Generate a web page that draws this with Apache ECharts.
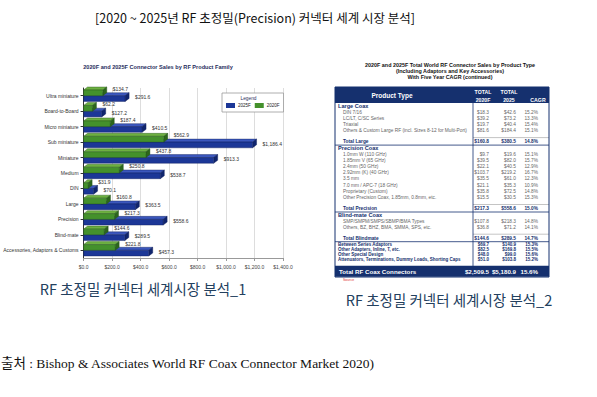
<!DOCTYPE html>
<html><head><meta charset="utf-8">
<script src="https://cdn.jsdelivr.net/npm/echarts@6/dist/echarts.min.js"></script>
<style>html,body{margin:0;padding:0;background:#fff}#c{width:597px;height:397px}</style>
</head><body><div id="c"></div>
<script>
// ---- bar chart data ----
const categories = ['Ultra miniature','Board-to-Board','Micro miniature','Sub miniature','Miniature','Medium','DIN','Large','Precision','Blind-mate','Accessories, Adaptors & Customs'];
const sales2020 = [134.7, 62.2, 187.4, 562.9, 437.8, 250.8, 31.9, 160.8, 217.3, 144.6, 221.8];
const sales2025 = [291.6, 127.2, 410.5, 1186.4, 913.3, 538.7, 70.1, 363.5, 558.6, 289.5, 457.3];
const seriesNames = ['2025F', '2020F'];

// ---- table data ----
const tableLabels = ['Large Coax','DIN 7/16','LC/LT, C/SC Series','Triaxial','Others & Custom Large RF (incl. Sizes 8-12 for Multi-Port)','Total Large',
  'Precision Coax','1.0mm W (110 GHz)','1.85mm V (65 GHz)','2.4mm (50 GHz)','2.92mm (K) (40 GHz)','3.5 mm','7.0 mm / APC-7 (18 GHz)','Proprietary (Custom)','Other Precision Coax, 1.85mm, 0.8mm, etc.','Total Precision',
  'Blind-mate Coax','SMP/SMPM/SMPS/SBMP/BMA Types','Others, BZ, BHZ, BMA, SMMA, SPS, etc.','Total Blindmate',
  'Between Series Adaptors','Other Adapters, Inline, T, etc.','Other Special Design','Attenuators, Terminations, Dummy Loads, Shorting Caps','Total RF Coax Connectors'];
const table2020 = ['', '$18.3','$39.2','$19.7','$81.6','$160.8', '', '$9.7','$39.5','$22.1','$103.7','$35.5','$21.1','$35.8','$15.5','$217.3', '', '$107.8','$36.8','$144.6', '$69.7','$82.5','$48.0','$51.0','$2,509.5'];
const table2025 = ['', '$42.6','$73.2','$40.4','$184.4','$380.5', '', '$19.6','$82.0','$40.5','$219.2','$61.0','$35.3','$72.5','$30.5','$558.6', '', '$218.3','$71.2','$289.5', '$140.9','$169.8','$99.0','$103.8','$5,180.9'];
const tableCagr = ['', '15.2%','13.3%','15.4%','15.1%','14.8%', '', '15.1%','15.7%','12.9%','16.7%','12.3%','10.9%','14.8%','15.3%','15.0%', '', '14.8%','14.1%','14.7%', '15.3%','15.5%','15.6%','15.2%','15.6%'];
const rowKinds = ['sec','item','item','item','item','tot','sec','item','item','item','item','item','item','item','item','tot','sec','item','item','tot','bold','bold','bold','bold','foot'];

const NAVY = '#15306e';
const fmt = v => '$' + v.toLocaleString('en-US',{minimumFractionDigits:1, maximumFractionDigits:1});

function bar3d(col, up){
  return function(params, api){
    const v = api.value(0), ci = api.value(1);
    const p0 = api.coord([0, ci]), p1 = api.coord([v, ci]);
    const band = api.size([0, 1])[1];
    const h = band * 0.37;
    const y0 = up ? p0[1] - h : p0[1];
    const x0 = p0[0], x1 = p1[0];
    const dx = 4, dy = 3;
    return {type:'group', children:[
      {type:'polygon', shape:{points:[[x0,y0],[x0+dx,y0-dy],[x1+dx,y0-dy],[x1,y0]]}, style:{fill:col.top, stroke:col.edge, lineWidth:0.4}},
      {type:'polygon', shape:{points:[[x1,y0],[x1+dx,y0-dy],[x1+dx,y0+h-dy],[x1,y0+h]]}, style:{fill:col.side, stroke:col.edge, lineWidth:0.4}},
      {type:'rect', shape:{x:x0, y:y0, width:x1-x0, height:h}, style:{fill:col.front, stroke:col.edge, lineWidth:0.4}},
      {type:'text', style:{text:fmt(v), x:x1+dx+6, y: up ? y0-1 : y0+1.5, fontSize:5, fill:'#333', verticalAlign:'middle', fontFamily:'Arial, Liberation Sans'}}
    ]};
  };
}
const blue = {front:'#1c3797', top:'#3b57bd', side:'#10256e', edge:'#0d1d55'};
const green = {front:'#44912c', top:'#6db041', side:'#2c661b', edge:'#23521a'};

// ---- table graphics ----
const T = {x0:335, x1:549, div:473, top:87, head:103, c1:489, c2:516, c3:538};
const tbl = [];
tbl.push({type:'rect', shape:{x:T.x0, y:T.top, width:T.x1-T.x0, height:T.head-T.top}, style:{fill:NAVY}});
tbl.push({type:'text', style:{text:'Product Type', x:392, y:95, fontSize:6.5, fontWeight:'bold', fill:'#fff', align:'center', verticalAlign:'middle', fontFamily:'Arial, Liberation Sans'}});
[['TOTAL',483,92],['2020F',483,99.5],['TOTAL',509,92],['2025',509,99.5],['CAGR',538,99.5]].forEach(t=>{
  tbl.push({type:'text', style:{text:t[0], x:t[1], y:t[2], fontSize:5.2, fontWeight:'bold', fill:'#fff', align:'center', verticalAlign:'middle', fontFamily:'Arial, Liberation Sans'}});
});
let y = 106;
const adv = {sec:6, item:6.2, tot:7, bold:5, foot:0};
rowKinds.forEach((k, i) => {
  if (i > 0) {
    const prev = rowKinds[i-1];
    if (k === 'tot') y += 11;
    else if (k === 'foot') y += 11.5;
    else if (prev === 'tot') y += 6.5;
    else y += adv[prev];
  }
  let st = {fontSize:4.8, fill:'#666', fontWeight:'normal'}, lx = 343;
  if (k === 'sec') { st = {fontSize:5.6, fill:NAVY, fontWeight:'bold'}; lx = 338; }
  if (k === 'tot') { st = {fontSize:4.8, fill:NAVY, fontWeight:'bold'}; lx = 343; }
  if (k === 'bold') { st = {fontSize:4.5, fill:NAVY, fontWeight:'bold'}; lx = 338; }
  if (k === 'foot') {
    tbl.push({type:'rect', shape:{x:T.x0, y:y-5.5, width:T.x1-T.x0, height:11}, style:{fill:NAVY}});
    st = {fontSize:6.2, fill:'#fff', fontWeight:'bold'}; lx = 339;
  }
  if (k === 'tot') {
    tbl.push({type:'line', shape:{x1:T.div, y1:y-4, x2:T.x1, y2:y-4}, style:{stroke:'#888', lineWidth:0.5}});
    tbl.push({type:'line', shape:{x1:T.x0, y1:y+3.5, x2:T.x1, y2:y+3.5}, style:{stroke:NAVY, lineWidth:0.8}});
  }
  const base = {fontFamily:'Arial, Liberation Sans', verticalAlign:'middle'};
  tbl.push({type:'text', style:Object.assign({text:tableLabels[i], x:lx, y:y, align:'left'}, base, st)});
  [[table2020[i], T.c1], [table2025[i], T.c2], [tableCagr[i], T.c3]].forEach(c => {
    if (c[0]) tbl.push({type:'text', style:Object.assign({text:c[0], x:c[1], y:y, align:'right'}, base, st)});
  });
});
tbl.push({type:'line', shape:{x1:T.div, y1:T.head, x2:T.div, y2:266}, style:{stroke:NAVY, lineWidth:0.8}});
tbl.push({type:'rect', shape:{x:T.x0, y:T.top, width:T.x1-T.x0, height:277-T.top}, style:{fill:'none', stroke:NAVY, lineWidth:1}});
tbl.push({type:'text', style:{text:'Source', x:343, y:280, fontSize:3.5, fill:'#d33', verticalAlign:'middle'}});

const tTitle = {fontFamily:'Arial, Liberation Sans', fontWeight:'bold', fontSize:5.4, fill:'#111', align:'center', verticalAlign:'middle'};

const chart = echarts.init(document.getElementById('c'), null, {renderer:'svg'});
chart.setOption({
  backgroundColor:'#fff',
  animation:false,
  grid:{left:80, right:314, top:88, bottom:139, containLabel:false},
  xAxis:{type:'value', min:0, max:1400, interval:200,
    axisLabel:{formatter:v=>fmt(v), fontSize:5, color:'#444', margin:6, fontFamily:'Arial, Liberation Sans'},
    splitLine:{show:true, lineStyle:{color:'#d4d4d4', width:0.8}},
    axisLine:{show:true, lineStyle:{color:'#999'}}, axisTick:{show:true, length:3, lineStyle:{color:'#999'}}},
  yAxis:{type:'category', data:categories, inverse:true,
    axisLabel:{fontSize:5, color:'#333', margin:5, fontFamily:'Arial, Liberation Sans'},
    axisTick:{show:true, alignWithLabel:true, length:3, lineStyle:{color:'#333'}},
    axisLine:{show:true, lineStyle:{color:'#333', width:1}}},
  legend:{data:seriesNames, left:222, top:93, itemWidth:9, itemHeight:5, itemGap:4, icon:'rect',
    padding:[10,4,4,4], borderColor:'#999', borderWidth:0.8, backgroundColor:'#fff',
    textStyle:{fontSize:4.5, color:'#222', padding:[0,0,0,-2]}},
  series:[
    {name:seriesNames[0], type:'custom', renderItem:bar3d(blue, false), itemStyle:{color:blue.front},
      encode:{x:0, y:1}, data:sales2025.map((v,i)=>[v,i]), z:2},
    {name:seriesNames[1], type:'custom', renderItem:bar3d(green, true), itemStyle:{color:green.front},
      encode:{x:0, y:1}, data:sales2020.map((v,i)=>[v,i]), z:3}
  ],
  graphic:[
    {type:'text', z:100, style:{text:'[2020 ~ 2025년 RF 초정밀(Precision) 커넥터 세계 시장 분석]', x:255, y:17, fontSize:12.5, fill:'#111', align:'center', verticalAlign:'middle', fontFamily:'"Noto Sans CJK KR", sans-serif'}},
    {type:'text', z:100, style:{text:'2020F and 2025F Connector Sales by RF Product Family', x:158, y:67, fontSize:5.6, fontWeight:'bold', fill:'#1f2d5c', align:'center', verticalAlign:'middle', fontFamily:'Arial, Liberation Sans'}},
    {type:'text', z:100, style:{text:'Legend', x:248.5, y:98.5, fontSize:4.8, fill:'#1f2d5c', align:'center', verticalAlign:'middle', fontFamily:'Arial, Liberation Sans'}},
    {type:'text', z:100, style:Object.assign({text:'2020F and 2025F Total World RF Connector Sales by Product Type', x:450, y:65}, tTitle)},
    {type:'text', z:100, style:Object.assign({text:'(Including Adaptors and Key Accessories)', x:450, y:71}, tTitle)},
    {type:'text', z:100, style:Object.assign({text:'With Five Year CAGR (continued)', x:450, y:77}, tTitle)},
    {type:'group', z:100, children:tbl},
    {type:'text', z:100, style:{text:'RF 초정밀 커넥터 세계시장 분석_1', x:143, y:288, fontSize:14.5, fill:'#23405e', align:'center', verticalAlign:'middle', fontFamily:'"Noto Sans CJK KR", sans-serif'}},
    {type:'text', z:100, style:{text:'RF 초정밀 커넥터 세계시장 분석_2', x:449, y:299, fontSize:14.5, fill:'#23405e', align:'center', verticalAlign:'middle', fontFamily:'"Noto Sans CJK KR", sans-serif'}},
    {type:'text', z:100, style:{text:'출처 : Bishop & Associates World RF Coax Connector Market 2020)', x:1, y:363, fontSize:13.5, fill:'#111', align:'left', verticalAlign:'middle', fontFamily:'"Liberation Serif", "Noto Sans CJK KR", serif'}}
  ]
});
</script></body></html>
